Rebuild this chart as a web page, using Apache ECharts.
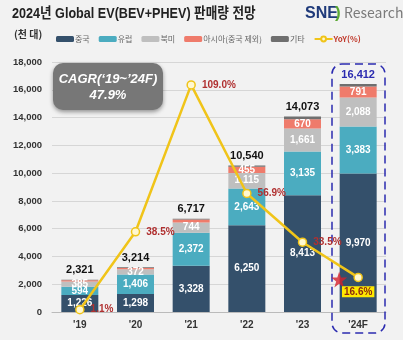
<!DOCTYPE html>
<html><head><meta charset="utf-8">
<script src="https://cdn.jsdelivr.net/npm/echarts@6/dist/echarts.min.js"></script>
<style>html,body{margin:0;padding:0;background:#f2f2f2;}#c{width:403px;height:340px;}</style>
</head><body><div id="c"></div>
<script>
var categories = ["'19", "'20", "'21", "'22", "'23", "'24F"];
var china = [1226, 1298, 3328, 6250, 8413, 9970];
var europe = [594, 1406, 2372, 2643, 3135, 3383];
var northAmerica = [385, 372, 744, 1115, 1661, 2088];
var asia = [85, 100, 220, 455, 670, 791];
var others = [31, 38, 53, 77, 194, 180];
var totals = [2321, 3214, 6717, 10540, 14073, 16412];
var yoy = [1.1, 38.5, 109.0, 56.9, 33.5, 16.6];
var yTicks = [0, 2000, 4000, 6000, 8000, 10000, 12000, 14000, 16000, 18000];
var asiaLabelShown = [false, false, false, true, true, true];

var FONT = "'Noto Sans CJK KR', 'Noto Sans', sans-serif";
var LFONT = "'Liberation Sans', 'Noto Sans CJK KR', sans-serif";
var chart = echarts.init(document.getElementById('c'));
function fmt(v){ return v.toLocaleString('en-US'); }
var segLabel = {show:true, position:'inside', color:'#fff', fontWeight:'bold', fontSize:10, fontFamily:'Liberation Sans', formatter:function(p){return fmt(p.value);}};

var starPath = 'path://M50,0 L61,35 L98,35 L68,57 L79,91 L50,70 L21,91 L32,57 L2,35 L39,35 Z';

chart.setOption({
  backgroundColor:'#f2f2f2',
  textStyle:{fontFamily:FONT},
  legend:{
    left:51, top:30, itemWidth:18, itemHeight:6, itemGap:9,
    textStyle:{fontSize:8, color:'#666', fontFamily:FONT, padding:[0,0,0,-4]},
    data:[{name:'중국'},{name:'유럽'},{name:'북미'},{name:'아시아(중국 제외)'},{name:'기타'},
      {name:'YoY(%)', textStyle:{color:'#c0392b', fontWeight:'bold'}, itemStyle:{color:'#fff8d0', borderColor:'#f0c419'}}]
  },
  grid:{left:52, right:17, top:62, bottom:28},
  xAxis:{type:'category', data:categories,
    axisLine:{lineStyle:{color:'#bbb'}}, axisTick:{show:false},
    axisLabel:{color:'#333', fontWeight:'bold', fontSize:10, fontFamily:'Liberation Sans', margin:8}},
  yAxis:[{type:'value', min:yTicks[0], max:yTicks[yTicks.length-1], interval:2000,
    axisLabel:{color:'#333', fontWeight:'bold', fontSize:9.5, fontFamily:'Liberation Sans', formatter:function(v){return fmt(v);}, margin:10},
    splitLine:{lineStyle:{color:'#d6d6d6'}}, axisLine:{show:false}},
    {type:'value', min:0, max:120, show:false, splitLine:{show:false}}],
  graphic:[
    {type:'text', x:12, y:6, scaleX:0.84, style:{text:'2024년 Global EV(BEV+PHEV) 판매량 전망', font:'bold 15px '+LFONT, fill:'#222'}},
    {type:'text', x:305, y:6, style:{text:'SNE', font:'bold 16px Liberation Sans', fill:'#1f3a7a'}, z:20},
    {type:'text', x:335, y:5, style:{text:')', font:'bold 17px Liberation Sans', fill:'#5aa832'}, z:20},
    {type:'text', x:344, y:6, style:{text:'Research', font:'14px '+FONT, fill:'#7a7a7a'}, z:20},
    {type:'text', left:14, top:29, style:{text:'(천 대)', font:'bold 10px '+FONT, fill:'#333'}},
    {type:'rect', shape:{x:53, y:63, width:110, height:47, r:10}, style:{fill:'#777', shadowBlur:4, shadowColor:'rgba(0,0,0,0.4)', shadowOffsetY:2}, z:5},
    {type:'text', x:108, y:79, style:{text:'CAGR(‘19~’24F)', font:'italic bold 13px Liberation Sans', fill:'#fff', align:'center', verticalAlign:'middle'}, z:6},
    {type:'text', x:108, y:95, style:{text:'47.9%', font:'italic bold 13px Liberation Sans', fill:'#fff', align:'center', verticalAlign:'middle'}, z:6},
    {type:'rect', shape:{x:332, y:64, width:53, height:269, r:10}, style:{fill:'none', stroke:'#2b2bb0', lineWidth:1.5, lineDash:[8,5]}, z:10}
  ],
  series:[
    {name:'중국', type:'bar', stack:'s', barWidth:37, data:china, itemStyle:{color:'#34506b'}, label:segLabel},
    {name:'유럽', type:'bar', stack:'s', data:europe, itemStyle:{color:'#4bacc0'}, label:segLabel},
    {name:'북미', type:'bar', stack:'s', data:northAmerica, itemStyle:{color:'#bfbfbf'}, label:segLabel},
    {name:'아시아(중국 제외)', type:'bar', stack:'s', itemStyle:{color:'#ef7b6b'},
      data:asia.map(function(v,i){return {value:v, label:{show:asiaLabelShown[i]}};}), label:segLabel},
    {name:'기타', type:'bar', stack:'s', itemStyle:{color:'#6f6f6f'},
      data:others.map(function(v,i){return {value:v, label:i===5?{color:'#2b2bb0'}:{}};}),
      label:{show:true, position:'top', distance:4, color:'#111', fontWeight:'bold', fontSize:11, fontFamily:'Liberation Sans',
        formatter:function(p){return fmt(totals[p.dataIndex]);}}},
    {name:'YoY(%)', type:'line', yAxisIndex:1, data:yoy.map(function(v,i){
        return i===5 ? {value:v, label:{position:'bottom', distance:4, backgroundColor:'#ffe800', color:'#8a2a10', padding:[1,2,0,2]}} : {value:v};}),
      symbol:'circle', symbolSize:8, z:20,
      lineStyle:{color:'#f0c419', width:2.5},
      itemStyle:{color:'#fff8d0', borderColor:'#f0c419', borderWidth:1.5},
      label:{show:true, position:'right', distance:6, color:'#b03030', fontWeight:'bold', fontSize:10, fontFamily:'Liberation Sans', formatter:function(p){return p.value.toFixed(1)+'%';}}},
    {name:'star', type:'scatter', yAxisIndex:1, data:[[categories[5], yoy[5]]], symbol:starPath, symbolSize:16, symbolOffset:[-19, 2], z:19,
      itemStyle:{color:'#d41f2a'}, silent:true}
  ]
});
</script></body></html>
